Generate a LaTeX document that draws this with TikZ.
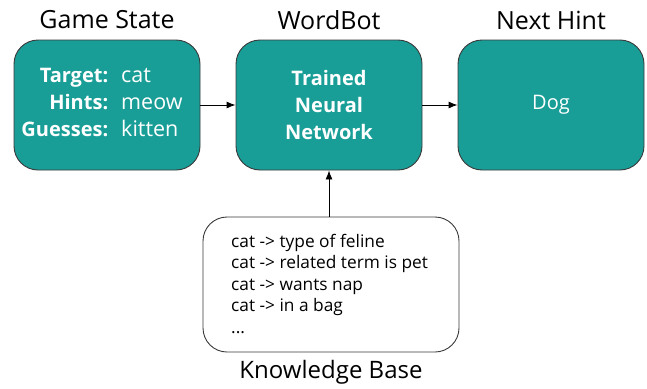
\documentclass[tikz,border=0pt]{standalone}
\usepackage{fontspec}
\setmainfont{Open Sans}
\usetikzlibrary{arrows.meta}
\definecolor{teal1}{HTML}{189E97}
\definecolor{edge1}{HTML}{3A3A3A}
\tikzset{
  card/.style={draw=edge1, line width=0.9pt, fill=teal1, rounded corners=24pt, minimum width=186pt, minimum height=130pt, text=white, inner sep=0pt, align=center, font=\fontsize{20}{27}\selectfont},
  kbbox/.style={draw=edge1, line width=0.9pt, fill=white, rounded corners=24pt, minimum width=256pt, minimum height=135pt, inner sep=0pt},
  title/.style={font=\fontsize{25}{28}\selectfont, text=black},
  conn/.style={-{Latex[length=9pt,width=7pt]}, line width=0.9pt, draw=black}
}
\newcommand{\valtxt}[1]{{\fontsize{21.5}{27}\selectfont #1}}
\begin{document}
\begin{tikzpicture}[x=1pt,y=-1pt]
\useasboundingbox (0,0) rectangle (647,388);
\node[card] (gs) at (107,105) {};
\node[card] (wb) at (329,105) {\bfseries Trained\\[0pt]\bfseries Neural\\[0pt]\bfseries Network};
\node[card] (nh) at (551,105) {Dog};
\node[text=white, font=\fontsize{20}{27}\selectfont, inner sep=0pt] (gstext) at (102,104) {%
  \begin{tabular}{@{}r@{\hspace{13pt}}l@{}}
  \bfseries Target: & \valtxt{cat}\\[-0.3pt]
  \bfseries Hints: & \valtxt{meow}\\[-0.3pt]
  \bfseries Guesses: & \valtxt{kitten}
  \end{tabular}};
\node[title] (t1) at (107,20) {Game State};
\node[title] (t2) at (329,20) {WordBot};
\node[title] (t3) at (551,20) {Next Hint};
\node[kbbox] (kb) at (331,284.5) {};
\node[anchor=north west, inner sep=0pt, align=left, font=\fontsize{17.3}{21.5}\selectfont] (kbtext) at (231,234) {cat -> type of feline\\cat -> related term is pet\\cat -> wants nap\\cat -> in a bag\\...};
\node[font=\fontsize{24}{28}\selectfont] (t4) at (331,372) {Knowledge Base};
\draw[conn] (gs.east) -- (wb.west);
\draw[conn] (wb.east) -- (nh.west);
\draw[conn] (kb.north -| wb.south) -- (wb.south);
\end{tikzpicture}
\end{document}
